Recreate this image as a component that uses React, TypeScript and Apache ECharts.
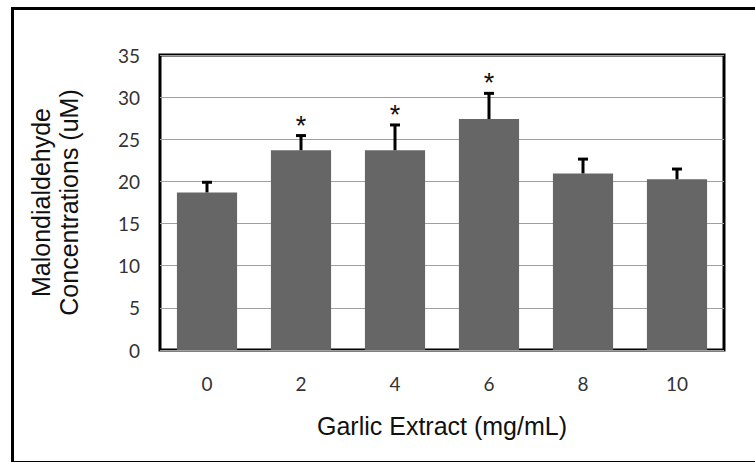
import React, { useEffect, useRef } from "react";
import * as echarts from "echarts";

const categories = ["0", "2", "4", "6", "8", "10"];
const means = [18.7, 23.7, 23.7, 27.4, 20.95, 20.25];
const errors = [1.2, 1.74, 3.0, 3.05, 1.7, 1.22];
const significance = ["", "*", "*", "*", "", ""];
const yTicks = { min: 0, max: 35, interval: 5 };

export default function App() {
  const ref = useRef<HTMLDivElement>(null);
  useEffect(() => {
    if (!ref.current) return;
    const chart = echarts.init(ref.current, null, { renderer: "svg" });
    const errData = categories.map((c, i) => [i, means[i], means[i] + errors[i], significance[i]]);
    chart.setOption({
      animation: false,
      backgroundColor: "#ffffff",
      grid: {
        left: 160,
        top: 55,
        right: 31,
        bottom: 112,
        show: true,
        borderColor: "#000000",
        borderWidth: 3,
        backgroundColor: "transparent",
      },
      graphic: [
        {
          type: "rect",
          shape: { x: 12.5, y: 8.5, width: 760, height: 454 },
          style: { fill: "none", stroke: "#000000", lineWidth: 3 },
          silent: true,
          z: -1,
        },
      ],
      xAxis: {
        type: "category",
        data: categories,
        axisLine: { show: false },
        axisTick: { show: false },
        axisLabel: {
          margin: 24,
          fontSize: 19,
          fontFamily: "Lato",
          color: "#333333",
        },
        name: "Garlic Extract (mg/mL)",
        nameLocation: "middle",
        nameGap: 63,
        nameTextStyle: {
          fontSize: 25,
          fontFamily: "Liberation Sans",
          color: "#111111",
        },
      },
      yAxis: {
        type: "value",
        min: yTicks.min,
        max: yTicks.max,
        interval: yTicks.interval,
        axisLine: { show: false },
        axisTick: { show: false },
        splitLine: { lineStyle: { color: "#a0a0a0", width: 1 } },
        axisLabel: {
          margin: 20,
          fontSize: 19,
          fontFamily: "Lato",
          color: "#333333",
        },
        name: "Malondialdehyde\nConcentrations (uM)",
        nameLocation: "middle",
        nameGap: 77,
        nameTextStyle: {
          fontSize: 25,
          lineHeight: 28,
          fontFamily: "Liberation Sans",
          color: "#111111",
        },
      },
      series: [
        {
          type: "bar",
          data: means,
          barCategoryGap: "36%",
          itemStyle: { color: "#666666" },
          z: 3,
        },
        {
          type: "custom",
          data: errData,
          z: 4,
          renderItem: (params: any, api: any) => {
            const x = api.value(0);
            const base = api.coord([x, api.value(1)]);
            const top = api.coord([x, api.value(2)]);
            const sig = significance[params.dataIndex];
            const capHalf = 5;
            const children: any[] = [
              {
                type: "line",
                shape: { x1: base[0], y1: base[1], x2: top[0], y2: top[1] },
                style: { stroke: "#000000", lineWidth: 3 },
              },
              {
                type: "line",
                shape: { x1: top[0] - capHalf, y1: top[1], x2: top[0] + capHalf, y2: top[1] },
                style: { stroke: "#000000", lineWidth: 3 },
              },
            ];
            if (sig) {
              children.push({
                type: "text",
                x: top[0],
                y: top[1] - 10,
                style: {
                  text: sig,
                  fontSize: 27,
                  fontFamily: "Liberation Sans",
                  fill: "#111111",
                  align: "center",
                  verticalAlign: "middle",
                },
              });
            }
            return { type: "group", children };
          },
        },
      ],
    });
    return () => chart.dispose();
  }, []);
  return <div ref={ref} style={{ width: 755, height: 462, position: "absolute", left: 0, top: 0 }} />;
}
